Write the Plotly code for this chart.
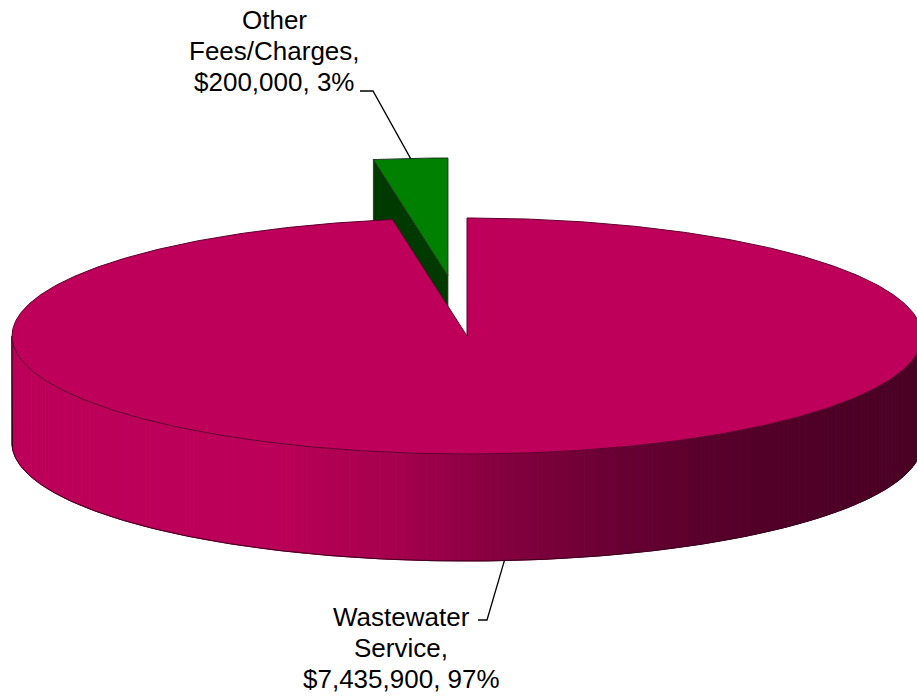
import numpy as np
import plotly.graph_objects as go

# ---- data -------------------------------------------------------------
categories = ["Wastewater Service", "Other Fees/Charges"]
amounts = [7435900, 200000]
label_lines = [["Wastewater", "Service,"], ["Other", "Fees/Charges,"]]
explode = [0.0, 0.51]          # radial offset of each slice, fraction of radius

top_colors = ["rgb(191,0,90)", "rgb(0,128,0)"]
cut_colors = ["rgb(120,0,58)", "rgb(0,58,0)"]
edge_colors = ["rgb(95,0,48)", "rgb(30,55,30)"]

# ---- drawing geometry (pixel space) ----------------------------------
W, H = 917, 696
CX, CY = 467, 336          # centre of the top ellipse
RX, RY = 455, 118          # ellipse semi-axes
DEPTH = 107                # thickness of the disc

total = float(sum(amounts))
fracs = [v / total for v in amounts]
starts = np.concatenate([[0.0], np.cumsum(fracs)[:-1]]) * 360.0
ends = np.cumsum(fracs) * 360.0


def offset(i):
    mid = np.radians((starts[i] + ends[i]) / 2)
    return explode[i] * RX * np.sin(mid), -explode[i] * RY * np.cos(mid)


def rim(theta_deg, dx=0.0, dy=0.0, drop=0.0):
    t = np.radians(theta_deg)
    return CX + dx + RX * np.sin(t), CY + dy - RY * np.cos(t) + drop


def arc(a0, a1, dx=0.0, dy=0.0, drop=0.0, n=None):
    if n is None:
        n = max(2, int(abs(a1 - a0) * 2) + 1)
    th = np.linspace(a0, a1, n)
    x, y = rim(th, dx, dy, drop)
    return list(x), list(y)


# side-wall shading: brighter on the left, darker to the right
shade_x = [0, 260, 400, 480, 600, 720, 830, 922]
shade_r = [188, 188, 165, 138, 108, 86, 78, 74]
shade_b = [89, 89, 78, 65, 52, 42, 38, 36]


def wall_color(x):
    r = np.interp(x, shade_x, shade_r)
    b = np.interp(x, shade_x, shade_b)
    return f"rgb({int(round(r))},0,{int(round(b))})"


fig = go.Figure()


def poly(xs, ys, fill, line_color=None, line_width=0.0):
    fig.add_trace(go.Scatter(
        x=xs + [xs[0]], y=ys + [ys[0]], mode="lines", fill="toself",
        fillcolor=fill,
        line=dict(color=line_color or fill, width=line_width),
        hoverinfo="skip", showlegend=False))


def path(xs, ys, color, width):
    fig.add_trace(go.Scatter(
        x=xs, y=ys, mode="lines", line=dict(color=color, width=width),
        hoverinfo="skip", showlegend=False))


# slices are painted back to front: exploded (rear) slice first
order = sorted(range(len(amounts)), key=lambda i: -np.cos(np.radians((starts[i] + ends[i]) / 2)))

for i in order:
    s, e = starts[i], ends[i]
    dx, dy = offset(i)
    tip = (CX + dx, CY + dy)

    # radial cut faces that turn towards the viewer
    for ang, visible in ((s, np.sin(np.radians(s)) < -1e-9), (e, np.sin(np.radians(e)) > 1e-9)):
        if visible:
            rx_, ry_ = rim(ang, dx, dy)
            xs = [tip[0], rx_, rx_, tip[0]]
            ys = [tip[1], ry_, ry_ + DEPTH, tip[1] + DEPTH]
            poly(xs, ys, cut_colors[i], edge_colors[i], 0.8)

    # front outer wall, shaded strip by strip
    w0, w1 = max(s, 90.0), min(e, 270.0)
    if w1 > w0:
        edges_deg = np.linspace(w0, w1, int((w1 - w0) / 1.0) + 1)
        for a0, a1 in zip(edges_deg[:-1], edges_deg[1:]):
            tx, ty = arc(a0, a1, dx, dy, n=3)
            bx, by = arc(a1, a0, dx, dy, drop=DEPTH, n=3)
            xm = rim((a0 + a1) / 2, dx)[0]
            col = wall_color(xm)
            poly(tx + bx, ty + by, col, col, 1.0)
        # outline of the wall
        lx, ly = rim(w1, dx, dy)
        bx, by = arc(w1, w0, dx, dy, drop=DEPTH)
        rx_, ry_ = rim(w0, dx, dy)
        path([lx] + bx + [rx_], [ly] + by + [ry_], "rgb(60,0,30)", 1.0)

    # top face
    ax, ay = arc(s, e, dx, dy)
    poly([tip[0]] + ax, [tip[1]] + ay, top_colors[i], edge_colors[i], 1.0)

# ---- labels with leader lines ---------------------------------------
FONT = dict(family="Arial, Liberation Sans, sans-serif", size=26, color="black")
label_center = [(401, 617), (274, 20)]
LINE_GAP = 31
leader_elbow = [[(478, 620), (487, 620)], [(360, 91), (373, 91)]]

for i in range(len(amounts)):
    lines = label_lines[i] + [f"${amounts[i]:,}, {round(fracs[i] * 100)}%"]
    x0, y0 = label_center[i]
    for k, txt in enumerate(lines):
        fig.add_annotation(x=x0, y=y0 + k * LINE_GAP, text=txt, showarrow=False,
                           xanchor="center", yanchor="middle", font=FONT)
    mid = (starts[i] + ends[i]) / 2
    dx, dy = offset(i)
    front = np.cos(np.radians(mid)) < 0
    px, py = rim(mid, dx, dy, drop=DEPTH if front else 0.0)
    (ex0, ey0), (ex1, ey1) = leader_elbow[i]
    path([ex0, ex1, px], [ey0, ey1, py], "black", 1.3)

fig.update_layout(
    width=W, height=H, margin=dict(l=0, r=0, t=0, b=0),
    paper_bgcolor="white", plot_bgcolor="white", showlegend=False,
    xaxis=dict(range=[0, W], visible=False, fixedrange=True),
    yaxis=dict(range=[H, 0], visible=False, fixedrange=True),
)

fig.write_html("out.html")
